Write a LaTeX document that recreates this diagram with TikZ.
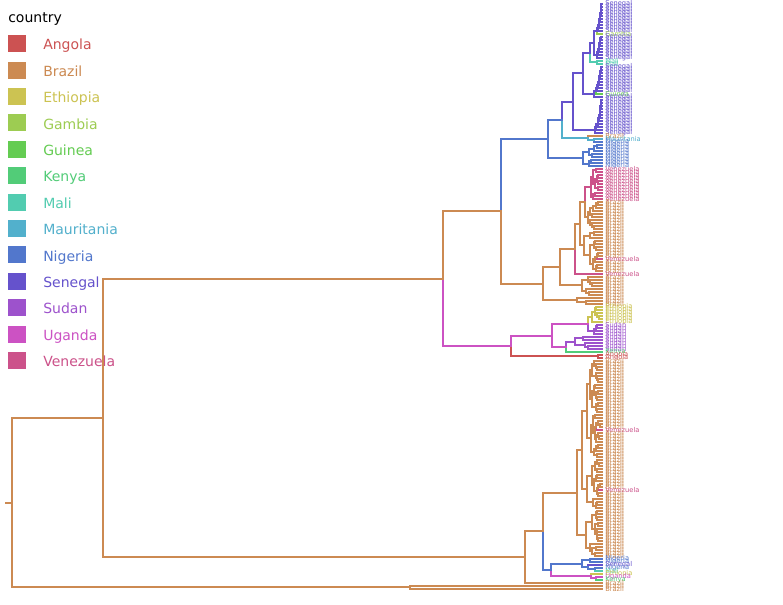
\documentclass[tikz,border=0pt]{standalone}
\usepackage{fontspec}
\setmainfont{DejaVu Sans}

% country palette: evenly spaced hues
\definecolor{angola}{RGB}{204,82,82}
\definecolor{brazil}{RGB}{204,138,82}
\definecolor{ethiopia}{RGB}{204,195,82}
\definecolor{gambia}{RGB}{157,204,82}
\definecolor{guinea}{RGB}{100,204,82}
\definecolor{kenya}{RGB}{82,204,120}
\definecolor{mali}{RGB}{82,204,176}
\definecolor{mauritania}{RGB}{82,176,204}
\definecolor{nigeria}{RGB}{82,119,204}
\definecolor{senegal}{RGB}{101,82,204}
\definecolor{sudan}{RGB}{157,82,204}
\definecolor{uganda}{RGB}{204,82,195}
\definecolor{venezuela}{RGB}{204,82,138}

\def\nmangola{Angola}\def\nmbrazil{Brazil}\def\nmethiopia{Ethiopia}
\def\nmgambia{Gambia}\def\nmguinea{Guinea}\def\nmkenya{Kenya}
\def\nmmali{Mali}\def\nmmauritania{Mauritania}\def\nmnigeria{Nigeria}
\def\nmsenegal{Senegal}\def\nmsudan{Sudan}\def\nmuganda{Uganda}
\def\nmvenezuela{Venezuela}

% tip positions
\def\tipx{602}
\def\labx{605}

% country of each tip (tips numbered from the top)
\newcommand\setleafcol[1]{%
  \def\trLc{brazil}%
  \ifnum#1<44\relax \def\trLc{senegal}\fi
  \ifnum#1=10\relax \def\trLc{gambia}\fi
  \ifnum#1=19\relax \def\trLc{mali}\fi
  \ifnum#1=20\relax \def\trLc{mali}\fi
  \ifnum#1=30\relax \def\trLc{guinea}\fi
  \ifnum#1=45\relax \def\trLc{mauritania}\fi
  \ifnum#1>45\relax \ifnum#1<55\relax \def\trLc{nigeria}\fi\fi
  \ifnum#1>54\relax \ifnum#1<66\relax \def\trLc{venezuela}\fi\fi
  \ifnum#1=85\relax \def\trLc{venezuela}\fi
  \ifnum#1=90\relax \def\trLc{venezuela}\fi
  \ifnum#1>100\relax \ifnum#1<107\relax \def\trLc{ethiopia}\fi\fi
  \ifnum#1>106\relax \ifnum#1<116\relax \def\trLc{sudan}\fi\fi
  \ifnum#1=116\relax \def\trLc{kenya}\fi
  \ifnum#1=117\relax \def\trLc{angola}\fi
  \ifnum#1=118\relax \def\trLc{angola}\fi
  \ifnum#1=142\relax \def\trLc{venezuela}\fi
  \ifnum#1=162\relax \def\trLc{venezuela}\fi
  \ifnum#1=185\relax \def\trLc{nigeria}\fi
  \ifnum#1=186\relax \def\trLc{nigeria}\fi
  \ifnum#1=187\relax \def\trLc{senegal}\fi
  \ifnum#1=188\relax \def\trLc{nigeria}\fi
  \ifnum#1=189\relax \def\trLc{mali}\fi
  \ifnum#1=190\relax \def\trLc{ethiopia}\fi
  \ifnum#1=191\relax \def\trLc{uganda}\fi
  \ifnum#1=192\relax \def\trLc{kenya}\fi
}

% split and branch-length ranges for generated clades
\def\rlo{0.2}\def\rhi{0.8}\def\flo{0.12}\def\fhi{0.4}

% generated clade over tips #1..#2, stem from x=#3, node at x=#4
\newcommand\cladeX[4]{%
  \begingroup
  \ifnum#1=#2\relax
    \setleafcol{#1}%
    \pgfmathsetmacro\trYy{4+3*#1}%
    \draw[branch,draw=\trLc] (#3,\trYy) -- (\tipx,\trYy);
    \node[tiplabel,text=\trLc] (leaf#1) at (\labx,\trYy) {\csname nm\trLc\endcsname};
    \xdef\trCy{\trYy}\xdef\trCc{\trLc}%
  \else
    \pgfmathtruncatemacro\trN{#2-#1+1}%
    \pgfmathtruncatemacro\trK{max(1,min(\trN-1,round(\trN*(\rlo+(\rhi-\rlo)*rnd))))}%
    \pgfmathtruncatemacro\trMa{#1+\trK-1}%
    \pgfmathtruncatemacro\trMb{#1+\trK}%
    \pgfmathsetmacro\trXa{#4+(\tipx-#4)*(\flo+(\fhi-\flo)*rnd)}%
    \pgfmathsetmacro\trXb{#4+(\tipx-#4)*(\flo+(\fhi-\flo)*rnd)}%
    \clade{#1}{\trMa}{#4}{\trXa}\let\trYa\trCy\let\trCa\trCc
    \clade{\trMb}{#2}{#4}{\trXb}\let\trYb\trCy\let\trCb\trCc
    \pgfmathsetmacro\trYy{(\trYa+\trYb)/2}%
    \ifnum\trK<\numexpr\trN-\trK\relax \let\trOc\trCb\else\let\trOc\trCa\fi
    \draw[branch,draw=\trCa] (#4,\trYy) -- (#4,\trYa);
    \draw[branch,draw=\trCb] (#4,\trYy) -- (#4,\trYb);
    \draw[branch,draw=\trOc] (#3,\trYy) -- (#4,\trYy);
    \xdef\trCy{\trYy}\xdef\trCc{\trOc}%
  \fi
  \endgroup}
\newcommand\clade[4]{\edef\trTmp{\noexpand\cladeX{#1}{#2}{#3}{#4}}\trTmp}

% ladder-shaped clade with very short internal branches
\newcommand\comb[4]{\begingroup\def\rlo{1}\def\rhi{1}\def\flo{0.15}\def\fhi{0.25}%
  \clade{#1}{#2}{#3}{#4}\endgroup}
% clade whose larger part sits on top
\newcommand\topheavy[4]{\begingroup\def\rlo{0.6}\def\rhi{0.85}%
  \clade{#1}{#2}{#3}{#4}\endgroup}

% node joining two given subtrees: stem from x=#1, node at x=#2, colour #3
\newcommand\tjoin[5]{%
  \begingroup
  #4\let\trYa\trCy\let\trCa\trCc
  #5\let\trYb\trCy\let\trCb\trCc
  \pgfmathsetmacro\trYy{(\trYa+\trYb)/2}%
  \draw[branch,draw=\trCa] (#2,\trYy) -- (#2,\trYa);
  \draw[branch,draw=\trCb] (#2,\trYy) -- (#2,\trYb);
  \draw[branch,draw=#3] (#1,\trYy) -- (#2,\trYy);
  \xdef\trCy{\trYy}\xdef\trCc{#3}%
  \endgroup}

\begin{document}
\begin{tikzpicture}[x=0.75pt,y=-0.75pt,
  branch/.style={line width=1.5pt,line cap=rect},
  tiplabel/.style={anchor=west,inner sep=0pt,font=\fontsize{5}{5}\selectfont},
  swatch/.style={anchor=north west,inner sep=0pt,minimum width=13.5pt,minimum height=12.75pt},
  legtext/.style={anchor=base west,inner sep=0pt,font=\fontsize{10.5}{12}\selectfont}]
\fill[white] (0,0) rectangle (783,605);
\useasboundingbox (0,0) rectangle (783,605);
\pgfmathsetseed{11}

% legend
\node[legtext,text=black] (title) at (8,22.5) {country};
\foreach \c/\t [count=\j from 0] in {angola/Angola,brazil/Brazil,ethiopia/Ethiopia,
  gambia/Gambia,guinea/Guinea,kenya/Kenya,mali/Mali,mauritania/Mauritania,
  nigeria/Nigeria,senegal/Senegal,sudan/Sudan,uganda/Uganda,venezuela/Venezuela}{
  \pgfmathsetmacro\ty{35+26.4*\j}
  \node[swatch,fill=\c] (sw\j) at (8,\ty) {};
  \node[legtext,text=\c] (lg\j) at (43,{\ty+15}) {\t};
}

% tree
\tjoin{6}{12}{brazil}{%
  \tjoin{12}{103}{brazil}{%
    \tjoin{103}{443}{brazil}{%
      \tjoin{443}{501}{brazil}{%
        \tjoin{501}{548}{nigeria}{%
          \tjoin{548}{562}{nigeria}{%
            \tjoin{562}{573}{senegal}{%
              \tjoin{573}{583}{senegal}{%
                \tjoin{583}{590}{senegal}{%
                  \tjoin{590}{594}{senegal}{\comb{0}{10}{594}{597}}{\comb{11}{18}{594}{597}}%
                }{\clade{19}{20}{590}{597}}%
              }{\comb{21}{31}{583}{594}}%
            }{\comb{32}{43}{573}{595}}%
          }{%
            \tjoin{562}{588}{mauritania}{\clade{44}{44}{588}{}}{\tjoin{588}{594}{mauritania}{\clade{45}{45}{594}{}}{\clade{46}{46}{594}{}}}%
          }%
        }{\topheavy{47}{54}{548}{583}}%
      }{%
        \tjoin{501}{543}{brazil}{%
          \tjoin{543}{560}{brazil}{%
            \tjoin{560}{575}{brazil}{%
              \tjoin{575}{580}{brazil}{%
                \tjoin{580}{585}{brazil}{\clade{55}{65}{585}{591}}{\clade{66}{75}{585}{588}}%
              }{\clade{76}{89}{580}{584}}%
            }{\clade{90}{90}{575}{}}%
          }{\clade{91}{97}{560}{582}}%
        }{\clade{98}{100}{543}{577}}%
      }%
    }{%
      \tjoin{443}{511}{uganda}{%
        \tjoin{511}{552}{uganda}{%
          \tjoin{552}{588}{uganda}{\clade{101}{106}{588}{592}}{\clade{107}{110}{588}{594}}%
        }{%
          \tjoin{552}{566}{uganda}{\clade{111}{115}{566}{575}}{\clade{116}{116}{566}{}}%
        }%
      }{\clade{117}{118}{511}{598}}%
    }%
  }{%
    \tjoin{103}{525}{brazil}{%
      \tjoin{525}{543}{brazil}{%
        \tjoin{543}{577}{brazil}{\clade{119}{168}{577}{582}}{\clade{169}{184}{577}{586}}%
      }{%
        \tjoin{543}{551}{nigeria}{%
          \tjoin{551}{582}{nigeria}{\clade{185}{186}{582}{590}}{\tjoin{582}{588}{nigeria}{\clade{187}{187}{588}{}}{\clade{188}{189}{588}{595}}}%
        }{%
          \tjoin{551}{591}{uganda}{\clade{190}{190}{591}{}}{\tjoin{591}{596}{uganda}{\clade{191}{191}{596}{}}{\clade{192}{192}{596}{}}}%
        }%
      }%
    }{\clade{193}{193}{525}{}}%
  }%
}{%
  \tjoin{12}{410}{brazil}{\clade{194}{194}{410}{}}{\clade{195}{195}{410}{}}%
}
\end{tikzpicture}
\end{document}
